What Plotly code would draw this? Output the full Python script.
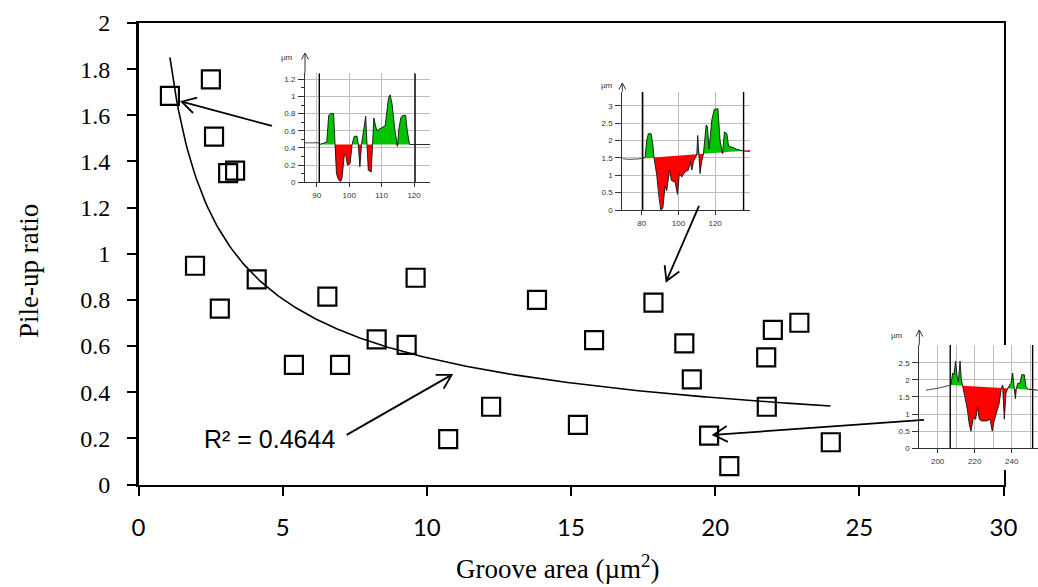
import numpy as np
import plotly.graph_objects as go

W, H = 1038, 587

# ---------------- main chart data ----------------
groove_area = [1.09, 2.51, 2.62, 3.11, 3.35, 1.96, 2.82, 4.10, 5.39, 6.55, 6.99, 8.26, 9.30, 9.61,
               10.74, 12.23, 13.82, 15.24, 15.80, 17.86, 18.93, 19.19, 19.79, 20.49, 21.77, 22.00,
               21.79, 22.92, 24.01]
pileup_ratio = [1.684, 1.756, 1.508, 1.349, 1.360, 0.948, 0.762, 0.889, 0.518, 0.814, 0.518, 0.629,
                0.605, 0.896, 0.197, 0.337, 0.800, 0.258, 0.626, 0.788, 0.612, 0.456, 0.212, 0.080,
                0.551, 0.670, 0.337, 0.701, 0.183]

# power trendline y = a * x^b (coefficients)
trend_coef = 1.941
trend_exp = -0.548
trend_x_start = 1.09
trend_x_end = 24.0
r2_label = "R² = 0.4644"
r2_pos = (4.54, 0.197)

x_tick_values = [0, 5, 10, 15, 20, 25, 30]
x_tick_labels = ["0", "5", "10", "15", "20", "25", "30"]
y_tick_values = [0.0, 0.2, 0.4, 0.6, 0.8, 1.0, 1.2, 1.4, 1.6, 1.8, 2.0]
y_tick_labels = ["0", "0.2", "0.4", "0.6", "0.8", "1", "1.2", "1.4", "1.6", "1.8", "2"]
x_title = "Groove area (µm<sup>2</sup>)"
y_title = "Pile-up ratio"

# arrows (tail -> tip), data units
arrow_tail_x = [4.63, 19.44, 27.24, 7.22]
arrow_tail_y = [1.554, 1.207, 0.280, 0.215]
arrow_tip_x = [1.50, 18.31, 19.94, 10.86]
arrow_tip_y = [1.659, 0.882, 0.215, 0.475]

# ---------------- inset profiles (µm vs µm) ----------------
ins1_lead_x = [86.4, 90.9]
ins1_lead_y = [0.46, 0.46]
ins1_x = [90.9, 92.6, 93.1, 93.7, 94.2, 95.2, 95.6, 96.1, 96.7, 97.4, 97.8, 98.5, 99.0, 99.5, 100.3,
          100.9, 101.5, 102.4, 102.8, 103.3, 103.8, 105.1, 105.5, 105.9, 106.8, 107.2, 107.6, 108.5,
          110.1, 111.1, 112.1, 112.6, 113.2, 114.1, 114.9, 115.3, 115.9, 116.5, 117.4, 117.9, 118.6,
          121.3, 124.9]
ins1_y = [0.44, 0.46, 0.47, 0.78, 0.80, 0.80, 0.44, 0.10, 0.03, 0.01, 0.05, 0.32, 0.30, 0.20, 0.22,
          0.44, 0.53, 0.54, 0.44, 0.18, 0.44, 0.77, 0.44, 0.14, 0.12, 0.44, 0.75, 0.60,
          0.64, 0.66, 0.98, 1.02, 0.92, 0.60, 0.42, 0.62, 0.75, 0.78, 0.78, 0.60, 0.44,
          0.44, 0.44]
ins1_base_x = [90.9, 124.9]
ins1_base_y = [0.44, 0.44]
ins1_ends = [90.8, 120.3]
ins1_xticks = [90, 100, 110, 120]
ins1_yticks = [0, 0.2, 0.4, 0.6, 0.8, 1.0, 1.2]

ins2_lead_x = [69.4, 73.0, 78.0, 80.9]
ins2_lead_y = [1.48, 1.46, 1.47, 1.50]
ins2_x = [80.9, 81.8, 82.7, 83.6, 85.1, 86.0, 86.7, 88.2, 89.3, 90.4, 91.5, 92.7, 93.6, 95.1, 96.2,
          98.2, 99.5, 100.5, 101.8, 103.6, 105.5, 106.4, 107.3, 108.2, 109.1, 110.0, 110.5, 111.1,
          111.8, 112.5, 113.6, 115.1, 115.8, 116.7, 118.2, 119.5, 121.5, 122.7, 124.0, 125.1,
          126.4, 127.3, 131.8, 135.5, 139.0]
ins2_y = [1.50, 1.51, 2.00, 2.20, 2.20, 1.90, 1.50, 1.00, 0.40, 0.00, 0.05, 0.70, 0.55, 1.15, 0.85,
          0.80, 0.45, 1.05, 0.95, 1.10, 1.15, 1.40, 1.15, 1.40, 1.50, 1.59, 2.15, 1.59,
          1.05, 1.35, 1.61, 2.45, 2.40, 1.75, 2.60, 2.90, 2.92, 2.00, 1.63, 2.25,
          2.20, 1.85, 1.75, 1.70, 1.69]
ins2_base_x = [80.9, 139.0]
ins2_base_y = [1.49, 1.72]
ins2_ends = [80.5, 135.5]
ins2_xticks = [80, 100, 120]
ins2_yticks = [0, 0.5, 1.0, 1.5, 2.0, 2.5, 3.0]

ins3_lead_x = [193.7, 200.4, 207.2]
ins3_lead_y = [1.70, 1.76, 1.85]
ins3_x = [207.2, 208.1, 208.8, 209.7, 210.5, 211.2, 212.1, 212.8, 213.5, 214.8, 216.0, 217.1, 218.0,
          219.3, 220.5, 221.6, 222.5, 223.8, 226.5, 228.3, 229.5, 230.5, 231.9, 233.2, 234.4, 235.1,
          236.0, 236.9, 237.8, 238.7, 239.6, 240.5, 241.3, 242.0, 242.5, 243.2, 244.5, 245.4, 246.8,
          247.7, 249.0, 251.7, 254.2]
ins3_y = [1.85, 2.20, 2.15, 2.55, 2.10, 1.95, 2.55, 2.00, 1.83, 1.50, 1.15, 0.70, 0.50,
          0.90, 0.85, 1.20, 0.85, 0.80, 0.80, 0.85, 0.50, 0.80, 1.10, 1.30, 1.76, 1.85,
          0.85, 1.60, 1.75, 1.85, 1.90, 2.20, 1.74, 1.45, 1.74, 1.90, 1.90, 2.15, 2.15,
          1.80, 1.73, 1.71, 1.70]
ins3_base_x = [207.2, 254.2]
ins3_base_y = [1.85, 1.70]
ins3_ends = [206.8, 251.3]
ins3_xticks = [200, 220, 240]
ins3_yticks = [0, 0.5, 1.0, 1.5, 2.0, 2.5]

# ---------------- geometry (pixels) ----------------
MAIN_L, MAIN_R, MAIN_T, MAIN_B = 138.5, 1003.5, 23.0, 484.5
X_MAX, Y_MAX = 30.0, 2.0
SX = (MAIN_R - MAIN_L) / X_MAX
SY = (MAIN_B - MAIN_T) / Y_MAX

GREEN = "#00c400"
RED = "#ff0000"
GRID = "#bdbdbd"


def pxx(px):
    return px / W


def pxy(py):
    return 1 - py / H


fig = go.Figure()

# ---- main subplot ----
xt = np.linspace(trend_x_start, trend_x_end, 300)
fig.add_trace(go.Scatter(x=xt, y=trend_coef * xt ** trend_exp, mode="lines",
                         line=dict(color="black", width=1.6), hoverinfo="skip", showlegend=False))
fig.add_trace(go.Scatter(x=groove_area, y=pileup_ratio, mode="markers",
                         marker=dict(symbol="square-open", size=18, color="black",
                                     line=dict(width=2.2, color="black")),
                         showlegend=False))

layout = dict(
    width=W, height=H, margin=dict(l=0, r=0, t=0, b=0, pad=0), autosize=False,
    paper_bgcolor="white", plot_bgcolor="white", showlegend=False,
    font=dict(family="Liberation Sans, Arial, sans-serif", color="black"),
    xaxis=dict(domain=[pxx(MAIN_L), pxx(MAIN_R)], range=[0, X_MAX], tickvals=x_tick_values,
               ticktext=x_tick_labels, ticks="outside", ticklen=9, tickwidth=2, tickcolor="black",
               showline=True, linewidth=2.5, linecolor="black", mirror=True, showgrid=False,
               zeroline=False, anchor="y", ticklabelstandoff=11, automargin=False,
               tickfont=dict(family="Lato, Carlito, sans-serif", size=24, color="black")),
    yaxis=dict(domain=[pxy(MAIN_B), pxy(MAIN_T)], range=[0, Y_MAX], tickvals=y_tick_values,
               ticktext=y_tick_labels, ticks="outside", ticklen=9, tickwidth=2, tickcolor="black",
               showline=True, linewidth=2.5, linecolor="black", mirror=True, showgrid=False,
               zeroline=False, anchor="x", ticklabelstandoff=12, automargin=False,
               tickfont=dict(family="Liberation Serif, Times New Roman, serif", size=24,
                             color="black")),
)

shapes = []
annotations = []

# titles
annotations.append(dict(text=x_title, xref="paper", yref="paper", x=pxx(557), y=pxy(567),
                        showarrow=False, xanchor="center", yanchor="middle",
                        font=dict(family="Liberation Serif, Times New Roman, serif", size=27,
                                  color="black")))
annotations.append(dict(text=y_title, xref="paper", yref="paper", x=pxx(29), y=pxy(271),
                        showarrow=False, xanchor="center", yanchor="middle", textangle=-90,
                        font=dict(family="Liberation Serif, Times New Roman, serif", size=27,
                                  color="black")))
annotations.append(dict(text=r2_label, xref="x", yref="y", x=r2_pos[0], y=r2_pos[1],
                        showarrow=False, xanchor="center", yanchor="middle",
                        font=dict(family="Liberation Sans, Arial, sans-serif", size=25,
                                  color="black")))


def to_px(x, y):
    return MAIN_L + x * SX, MAIN_B - y * SY


def to_data(px, py):
    return (px - MAIN_L) / SX, (MAIN_B - py) / SY


for tx, ty, hx, hy in zip(arrow_tail_x, arrow_tail_y, arrow_tip_x, arrow_tip_y):
    tpx, tpy = to_px(tx, ty)
    hpx, hpy = to_px(hx, hy)
    d = np.array([tpx - hpx, tpy - hpy])
    d = d / np.linalg.norm(d)
    wings = []
    for ang in (np.radians(30), -np.radians(30)):
        r = np.array([d[0] * np.cos(ang) - d[1] * np.sin(ang), d[0] * np.sin(ang) + d[1] * np.cos(ang)])
        wx, wy = hpx + 16 * r[0], hpy + 16 * r[1]
        wings.append(to_data(wx, wy))
    shapes.append(dict(type="path", xref="x", yref="y", layer="above",
                       path=f"M {tx},{ty} L {hx},{hy}", line=dict(color="black", width=1.8)))
    shapes.append(dict(type="path", xref="x", yref="y", layer="above",
                       path=f"M {wings[0][0]},{wings[0][1]} L {hx},{hy} L {wings[1][0]},{wings[1][1]}",
                       line=dict(color="black", width=1.8)))

# ---- insets ----
insets = [
    dict(lead=(ins1_lead_x, ins1_lead_y), prof=(ins1_x, ins1_y), base=(ins1_base_x, ins1_base_y),
         ends=ins1_ends, xt=ins1_xticks, yt=ins1_yticks, minor=0.1, xminor=None,
         box=(305, 430, 73.3, 182.3), xr=[86.4, 124.9], yr=[0, 1.27],
         cover=(280, 433, 44, 200), tip=53, um=(287, 58)),
    dict(lead=(ins2_lead_x, ins2_lead_y), prof=(ins2_x, ins2_y), base=(ins2_base_x, ins2_base_y),
         ends=ins2_ends, xt=ins2_xticks, yt=ins2_yticks, minor=None, xminor=None,
         box=(622.3, 750, 91.7, 210), xr=[69.4, 139.0], yr=[0, 3.41],
         cover=(596, 752, 76, 222), tip=83, um=(607, 85)),
    dict(lead=(ins3_lead_x, ins3_lead_y), prof=(ins3_x, ins3_y), base=(ins3_base_x, ins3_base_y),
         ends=ins3_ends, xt=ins3_xticks, yt=ins3_yticks, minor=None, xminor=10,
         box=(919.3, 1038, 345, 448.3), xr=[190.1, 254.2], yr=[0, 3.02],
         cover=(886, 1038, 345, 470), tip=330, um=(897, 335)),
]

n_ins = len(insets)
# cover subplots first (axes 2..4), then insets (axes 5..7)
for i, ins in enumerate(insets):
    k = 2 + i
    l, r, t, b = ins["cover"]
    layout[f"xaxis{k}"] = dict(domain=[pxx(l), pxx(r)], range=[0, 1], visible=False,
                               anchor=f"y{k}", automargin=False)
    layout[f"yaxis{k}"] = dict(domain=[pxy(b), pxy(t)], range=[0, 1], visible=False,
                               anchor=f"x{k}", automargin=False)
    fig.add_trace(go.Scatter(x=[0, 1, 1, 0, 0], y=[0, 0, 1, 1, 0], mode="none", fill="toself",
                             fillcolor="white", xaxis=f"x{k}", yaxis=f"y{k}", hoverinfo="skip",
                             showlegend=False))

tickfont_small = dict(family="Liberation Sans, Arial, sans-serif", size=8, color="#333333")
for i, ins in enumerate(insets):
    k = 2 + n_ins + i
    l, r, t, b = ins["box"]
    xa = dict(domain=[pxx(l), pxx(r)], range=ins["xr"], anchor=f"y{k}", tickvals=ins["xt"],
              ticks="outside", ticklen=4, tickcolor="#333333", showline=True, linecolor="#333333",
              linewidth=1, showgrid=True, gridcolor=GRID, gridwidth=1, zeroline=False,
              tickfont=tickfont_small, ticklabelstandoff=1, automargin=False)
    if ins["xminor"]:
        xa["minor"] = dict(dtick=ins["xminor"], tick0=ins["xt"][0], showgrid=True, gridcolor=GRID,
                           ticks="")
    ya = dict(domain=[pxy(b), pxy(t)], range=ins["yr"], anchor=f"x{k}", tickvals=ins["yt"],
              ticks="outside", ticklen=6, tickcolor="#333333", showline=True, linecolor="#333333",
              linewidth=1, showgrid=True, gridcolor=GRID, gridwidth=1, zeroline=False,
              tickfont=tickfont_small, ticklabelstandoff=1, automargin=False)
    if ins["minor"]:
        ya["minor"] = dict(dtick=ins["minor"], ticks="outside", ticklen=3, tickcolor="#333333",
                           showgrid=False)
    layout[f"xaxis{k}"] = xa
    layout[f"yaxis{k}"] = ya
    xs = np.array(ins["prof"][0], dtype=float)
    ys = np.array(ins["prof"][1], dtype=float)
    base = np.interp(xs, ins["base"][0], ins["base"][1])
    upper = np.maximum(ys, base)
    lower = np.minimum(ys, base)
    common = dict(xaxis=f"x{k}", yaxis=f"y{k}", hoverinfo="skip", showlegend=False)
    fig.add_trace(go.Scatter(x=xs, y=base, mode="lines", line=dict(width=0, color=GREEN), **common))
    fig.add_trace(go.Scatter(x=xs, y=upper, mode="lines", fill="tonexty", fillcolor=GREEN,
                             line=dict(width=0, color=GREEN), **common))
    fig.add_trace(go.Scatter(x=xs, y=base, mode="lines", line=dict(width=0, color=RED), **common))
    fig.add_trace(go.Scatter(x=xs, y=lower, mode="lines", fill="tonexty", fillcolor=RED,
                             line=dict(width=0, color=RED), **common))
    fig.add_trace(go.Scatter(x=xs, y=ys, mode="lines", line=dict(width=0.9, color="#111111"), **common))
    fig.add_trace(go.Scatter(x=ins["lead"][0], y=ins["lead"][1], mode="lines",
                             line=dict(width=0.9, color="#333333"), **common))
    e1, e2 = ins["ends"]
    top = ins["yr"][1]
    fig.add_trace(go.Scatter(x=[e1, e1, None, e2, e2], y=[0, top, None, 0, top], mode="lines",
                             line=dict(width=1.4, color="black"), **common))
    # y axis arrow above the inset
    ax = l
    shapes.append(dict(type="line", xref="paper", yref="paper", x0=pxx(ax), x1=pxx(ax),
                       y0=pxy(t), y1=pxy(ins["tip"]), line=dict(color="#333333", width=1),
                       layer="above"))
    shapes.append(dict(type="path", xref="paper", yref="paper", layer="above",
                       path=f"M {pxx(ax - 3.5)},{pxy(ins['tip'] + 6.5)} L {pxx(ax)},{pxy(ins['tip'])} "
                            f"L {pxx(ax + 3.5)},{pxy(ins['tip'] + 6.5)}",
                       line=dict(color="#333333", width=1)))
    annotations.append(dict(text="µm", xref="paper", yref="paper", x=pxx(ins["um"][0]),
                            y=pxy(ins["um"][1]), showarrow=False, xanchor="center",
                            yanchor="middle", font=tickfont_small))

layout["shapes"] = shapes
layout["annotations"] = annotations
fig.update_layout(**layout)
fig.write_html("out.html", config={"displayModeBar": False, "staticPlot": True},
               post_script="document.body.style.margin='0px';"
                           "document.documentElement.style.overflow='hidden';")
